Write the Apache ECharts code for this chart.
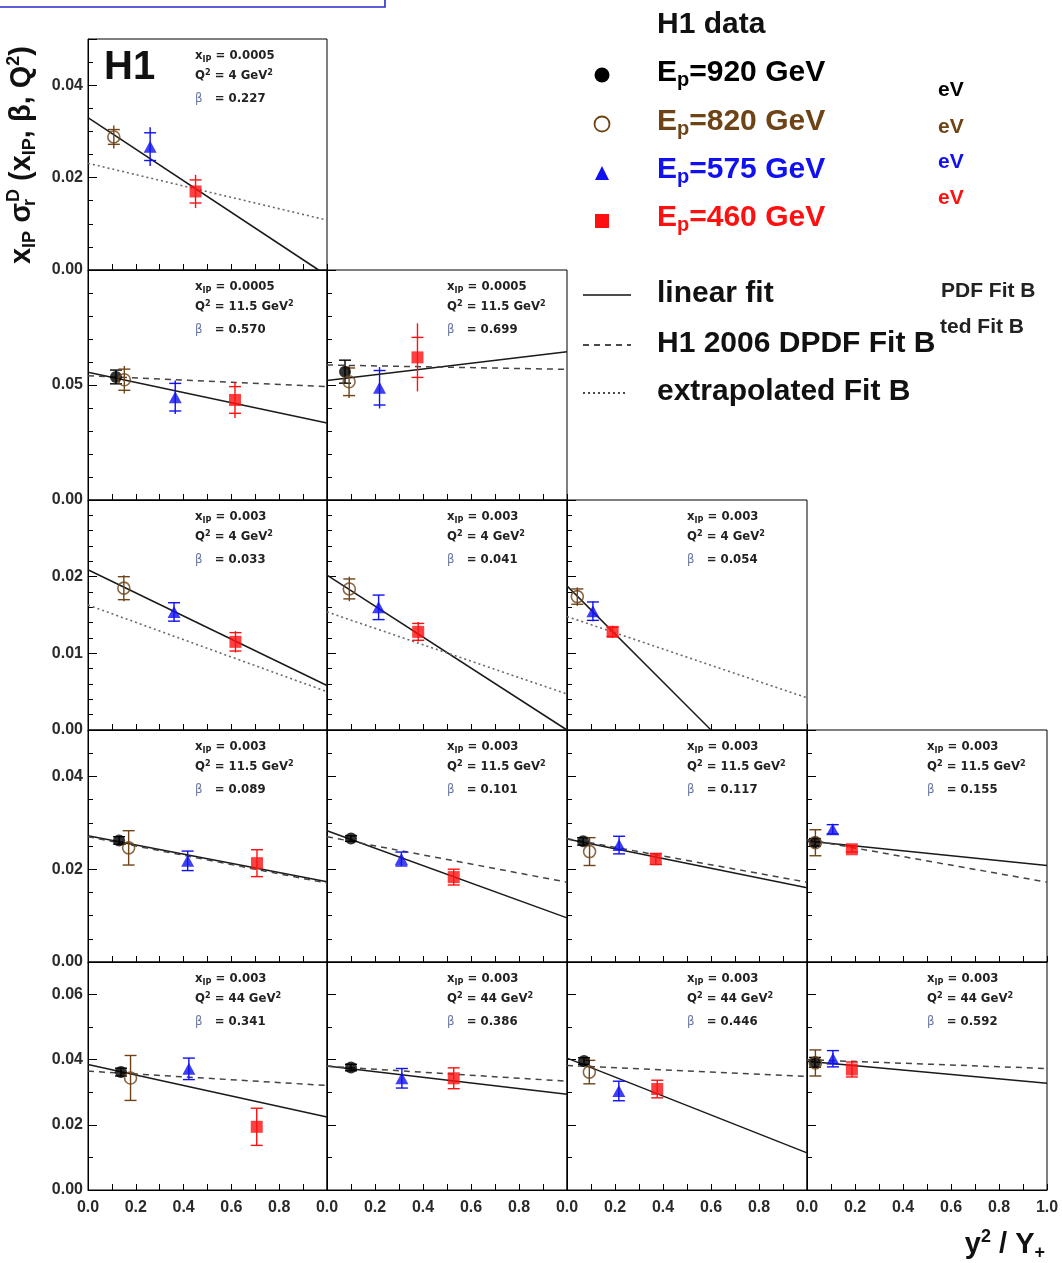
<!DOCTYPE html>
<html><head><meta charset="utf-8">
<script src="https://cdn.jsdelivr.net/npm/echarts@6/dist/echarts.min.js"></script>
<style>html,body{margin:0;padding:0;background:#fff}#c{width:1062px;height:1263px}</style>
</head><body><div id="c"></div><script>
// ---------------- data ----------------
const energies = ['920', '820', '575', '460'];
const seriesColors = ['#000000', '#6e4316', '#1010f0', '#ff1010'];

// panel position in the triangular matrix (row, column)
const panelRow = [0, 1, 1, 2, 2, 2, 3, 3, 3, 3, 4, 4, 4, 4];
const panelCol = [0, 0, 1, 0, 1, 2, 0, 1, 2, 3, 0, 1, 2, 3];

// bin labels
const xIP  = ['0.0005','0.0005','0.0005','0.003','0.003','0.003','0.003','0.003','0.003','0.003','0.003','0.003','0.003','0.003'];
const Q2   = ['4','11.5','11.5','4','4','4','11.5','11.5','11.5','11.5','44','44','44','44'];
const beta = ['0.227','0.570','0.699','0.033','0.041','0.054','0.089','0.101','0.117','0.155','0.341','0.386','0.446','0.592'];

// points: [y2/Y+, value, stat error, total error] per panel
const ep920 = [null,
  [0.117,0.0535,0.003,0.003], [0.075,0.0558,0.005,0.005],
  null, null, null,
  [0.130,0.0262,0.0008,0.0008], [0.100,0.0266,0.0006,0.0006], [0.067,0.0260,0.0008,0.0008], [0.033,0.0258,0.0008,0.0008],
  [0.138,0.0362,0.0012,0.0012], [0.100,0.0376,0.0010,0.0010], [0.071,0.0396,0.0010,0.0010], [0.033,0.0392,0.0015,0.0015]];
const ep820 = [[0.108,0.0288,0.0016,0.0025],
  [0.152,0.0523,0.0046,0.0060], [0.092,0.0514,0.0060,0.0070],
  [0.150,0.0185,0.0015,0.0017], [0.093,0.0184,0.0013,0.0016], [0.043,0.0174,0.0010,0.0012],
  [0.170,0.0246,0.0037,0.0037], null, [0.094,0.0238,0.0030,0.0030], [0.035,0.0257,0.0028,0.0028],
  [0.178,0.0344,0.0069,0.0069], null, [0.093,0.0362,0.0036,0.0036], [0.035,0.0390,0.0040,0.0040]];
const ep575 = [[0.260,0.0267,0.0030,0.0042],
  [0.365,0.0447,0.0060,0.0073], [0.219,0.0488,0.0075,0.0090],
  [0.360,0.0154,0.0012,0.0013], [0.215,0.0160,0.0016,0.0016], [0.108,0.0155,0.0012,0.0013],
  [0.417,0.0218,0.0021,0.0021], [0.310,0.0222,0.0015,0.0015], [0.217,0.0252,0.0019,0.0019], [0.107,0.0286,0.0010,0.0010],
  [0.422,0.0372,0.0033,0.0033], [0.312,0.0343,0.0030,0.0030], [0.216,0.0304,0.0030,0.0030], [0.108,0.0403,0.0025,0.0025]];
const ep460 = [[0.450,0.0170,0.0025,0.0036],
  [0.615,0.0435,0.0058,0.0078], [0.377,0.0620,0.0087,0.0148],
  [0.617,0.0115,0.0012,0.0014], [0.380,0.0128,0.0011,0.0013], [0.190,0.0128,0.0006,0.0008],
  [0.707,0.0213,0.0029,0.0029], [0.528,0.0183,0.0017,0.0017], [0.370,0.0222,0.0012,0.0012], [0.187,0.0243,0.0006,0.0006],
  [0.706,0.0194,0.0057,0.0057], [0.528,0.0343,0.0032,0.0032], [0.376,0.0310,0.0027,0.0027], [0.187,0.0370,0.0023,0.0023]];

// curves: [x0, y0, x1, y1]
const linearFit = [[0,0.0330,0.965,0],
  [0,0.0555,1,0.0335], [0,0.0520,1,0.0645],
  [0,0.0209,1,0.0058], [0,0.0202,1,0], [0,0.0188,0.6,0],
  [0,0.0272,1,0.0173], [0,0.0283,1,0.0095], [0,0.0265,1,0.0160], [0,0.0261,1,0.0208],
  [0,0.0385,1,0.0224], [0,0.0381,1,0.0294], [0,0.0405,1,0.0114], [0,0.0395,1,0.0328]];
const fitB = [null,
  [0,0.0540,1,0.0493], [0,0.0587,1,0.0568],
  null, null, null,
  [0,0.0270,1,0.0170], [0,0.0270,1,0.0172], [0,0.0266,1,0.0172], [0,0.0264,1,0.0172],
  [0,0.0365,1,0.0321], [0,0.0380,1,0.0334], [0,0.0382,1,0.0349], [0,0.0400,1,0.0373]];
const extrapFitB = [[0,0.0231,1,0.0108],
  null, null,
  [0,0.0163,1,0.0050], [0,0.0154,1,0.0047], [0,0.0148,1,0.0042],
  null, null, null, null, null, null, null, null];

// axis ranges per row
const yMax   = [0.05, 0.10, 0.03, 0.05, 0.07];
const yStep  = [0.02, 0.05, 0.01, 0.02, 0.02];
const yMinor = [4, 5, 5, 4, 2];
const xMax = 1.0, xStep = 0.2;

// ---------------- layout ----------------
const colX = [88, 327, 567, 807, 1047];
const rowY = [39, 270, 500, 730, 962, 1190];
const NARROW = "'Liberation Sans Narrow','DejaVu Sans Condensed','Arial Narrow',sans-serif";
const SANS = "'Liberation Sans',Arial,sans-serif";

const grids = [], xAxes = [], yAxes = [], series = [], graphic = [];
const pointSets = [ep920, ep820, ep575, ep460];
const symbols = ['circle', 'circle', 'triangle', 'rect'];
const symSizes = [12, 12, [13, 12], 12];

function errRender(params, api) {
  const x = api.value(0), y = api.value(1), s = api.value(2), t = api.value(3), k = api.value(4);
  const c = seriesColors[k];
  const a = api.coord([x, y + t]), b = api.coord([x, y - t]);
  const sa = api.coord([x, y + s]), sb = api.coord([x, y - s]);
  const w = 6;
  const st = { stroke: c, lineWidth: 1.4 };
  return { type: 'group', children: [
    { type: 'line', shape: { x1: a[0], y1: a[1], x2: b[0], y2: b[1] }, style: st },
    { type: 'line', shape: { x1: sa[0] - w, y1: sa[1], x2: sa[0] + w, y2: sa[1] }, style: st },
    { type: 'line', shape: { x1: sb[0] - w, y1: sb[1], x2: sb[0] + w, y2: sb[1] }, style: st }
  ]};
}

const annRich = {
  a: { fontFamily: NARROW, fontWeight: 'bold', fontSize: 13, lineHeight: 16, fill: '#222' },
  s: { fontFamily: NARROW, fontWeight: 'bold', fontSize: 9, lineHeight: 9, verticalAlign: 'bottom', fill: '#222' },
  u: { fontFamily: NARROW, fontWeight: 'bold', fontSize: 9, lineHeight: 9, verticalAlign: 'top', fill: '#222' },
  b: { fontFamily: NARROW, fontSize: 13, lineHeight: 16, fill: '#6a78a0' }
};

for (let i = 0; i < panelRow.length; i++) {
  const r = panelRow[i], c = panelCol[i];
  const last = r === 4;
  grids.push({ left: colX[c], top: rowY[r], width: colX[c + 1] - colX[c], height: rowY[r + 1] - rowY[r],
    show: true, borderColor: '#000', borderWidth: 1, backgroundColor: 'transparent', containLabel: false, outerBoundsMode: 'none' });
  xAxes.push({ gridIndex: i, type: 'value', min: 0, max: xMax, interval: xStep,
    axisLine: { show: true, onZero: false, lineStyle: { color: '#000', width: 1 } },
    axisTick: { show: true, inside: true, length: 6, lineStyle: { color: '#000' } },
    minorTick: { show: true, splitNumber: 2, length: 6, lineStyle: { color: '#000' } },
    splitLine: { show: false },
    axisLabel: { show: last, margin: 10, fontFamily: SANS, fontWeight: 'bold', fontSize: 16, color: '#2a2a2a',
      showMinLabel: true, showMaxLabel: c === 3,
      formatter: v => (c < 3 && v > 0.99) ? '' : v.toFixed(1) } });
  const ymx = yMax[r];
  yAxes.push({ gridIndex: i, type: 'value', min: 0, max: ymx, interval: yStep[r],
    axisLine: { show: true, onZero: false, lineStyle: { color: '#000', width: 1 } },
    axisTick: { show: true, inside: true, length: 9, lineStyle: { color: '#000' } },
    minorTick: { show: true, splitNumber: yMinor[r], length: 5, lineStyle: { color: '#000' } },
    splitLine: { show: false },
    axisLabel: { show: c === 0, margin: 5, fontFamily: SANS, fontWeight: 'bold', fontSize: 16, color: '#2a2a2a',
      showMinLabel: true, showMaxLabel: false,
      formatter: v => (v > ymx - 1e-9) ? '' : v.toFixed(2) } });

  // curves
  const curves = [
    [linearFit[i], { color: '#1a1a1a', width: 1.5, type: 'solid' }],
    [fitB[i], { color: '#444', width: 1.5, type: [6, 5] }],
    [extrapFitB[i], { color: '#6a6a6a', width: 1.6, type: [2, 3] }]
  ];
  curves.forEach(([cv, ls]) => {
    if (!cv) return;
    series.push({ type: 'line', xAxisIndex: i, yAxisIndex: i, data: [[cv[0], cv[1]], [cv[2], cv[3]]],
      symbol: 'none', lineStyle: ls, silent: true, animation: false, z: 2 });
  });

  // error bars
  const errData = [];
  pointSets.forEach((set, k) => { const p = set[i]; if (p) errData.push([p[0], p[1], p[2], p[3], k]); });
  series.push({ type: 'custom', xAxisIndex: i, yAxisIndex: i, data: errData, encode: { x: 0, y: 1 },
    renderItem: errRender, silent: true, animation: false, z: 3 });

  // markers
  pointSets.forEach((set, k) => {
    const p = set[i]; if (!p) return;
    series.push({ type: 'scatter', name: 'Ep=' + energies[k] + ' GeV', xAxisIndex: i, yAxisIndex: i,
      data: [[p[0], p[1]]], symbol: symbols[k], symbolSize: symSizes[k], silent: true, animation: false, z: 4 + k,
      itemStyle: k === 1 ? { color: 'rgba(255,255,255,0)', borderColor: seriesColors[1], borderWidth: 1.6 }
                         : { color: seriesColors[k], borderWidth: 0 } });
  });

  // bin annotation
  const tx = colX[c] + (c === 0 ? 107 : 120), ty = rowY[r];
  graphic.push({ type: 'text', x: tx, y: ty + 17, style: { text: '{a|x}{s|IP}{a| = ' + xIP[i] + '}', rich: annRich, verticalAlign: 'middle' } });
  graphic.push({ type: 'text', x: tx, y: ty + 37, style: { text: '{a|Q}{u|2}{a| = ' + Q2[i] + ' GeV}{u|2}', rich: annRich, verticalAlign: 'middle' } });
  graphic.push({ type: 'text', x: tx, y: ty + 60, style: { text: '{b|β}{a|   = ' + beta[i] + '}', rich: annRich, verticalAlign: 'middle' } });
}

// H1 logo
graphic.push({ type: 'text', x: 104, y: 68, style: { text: 'H1', font: 'bold 40px ' + SANS, fill: '#111', verticalAlign: 'middle' } });

// y axis title (rotated)
const bigRich = {
  m: { fontFamily: SANS, fontWeight: 'bold', fontSize: 29, lineHeight: 34, fill: '#111' },
  s: { fontFamily: SANS, fontWeight: 'bold', fontSize: 18, lineHeight: 18, verticalAlign: 'bottom', fill: '#111' },
  r: { fontFamily: SANS, fontWeight: 'bold', fontSize: 18, lineHeight: 18, verticalAlign: 'bottom', width: 1, fill: '#111' },
  u: { fontFamily: SANS, fontWeight: 'bold', fontSize: 18, lineHeight: 18, verticalAlign: 'top', fill: '#111' }
};
graphic.push({ type: 'text', x: 22, y: 155, rotation: Math.PI / 2,
  style: { text: '{m|x}{s|IP}{m| σ}{r|r}{u|D}{m| (x}{s|IP}{m|, β, Q}{u|2}{m|)}', rich: bigRich, align: 'center', verticalAlign: 'middle' } });
// x axis title
graphic.push({ type: 'text', x: 1045, y: 1245,
  style: { text: '{m|y}{u|2}{m| / Y}{s|+}', rich: bigRich, align: 'right', verticalAlign: 'middle' } });

// legend
const legRich = (col) => ({
  m: { fontFamily: SANS, fontWeight: 'bold', fontSize: 30, lineHeight: 34, fill: col },
  s: { fontFamily: SANS, fontWeight: 'bold', fontSize: 20, lineHeight: 20, verticalAlign: 'bottom', fill: col }
});
graphic.push({ type: 'text', x: 657, y: 25, style: { text: 'H1 data', font: 'bold 30px ' + SANS, fill: '#111', verticalAlign: 'middle' } });
const legY = [73, 122, 170, 218];
energies.forEach((e, k) => {
  graphic.push({ type: 'text', x: 657, y: legY[k], style: { text: '{m|E}{s|p}{m|=' + e + ' GeV}', rich: legRich(seriesColors[k]), verticalAlign: 'middle' } });
});
graphic.push({ type: 'circle', shape: { cx: 602, cy: 75, r: 7.5 }, style: { fill: '#000' } });
graphic.push({ type: 'circle', shape: { cx: 602, cy: 124, r: 7.5 }, style: { fill: 'none', stroke: seriesColors[1], lineWidth: 1.8 } });
graphic.push({ type: 'polygon', shape: { points: [[595, 180], [609, 180], [602, 166]] }, style: { fill: seriesColors[2] } });
graphic.push({ type: 'rect', shape: { x: 595, y: 214, width: 14, height: 14 }, style: { fill: seriesColors[3] } });

const lineLeg = [['linear fit', 295, null, 631], ['H1 2006 DPDF Fit B', 345, [6, 5], 631], ['extrapolated Fit B', 393, [2, 3], 628]];
lineLeg.forEach(([t, y, dash, x2]) => {
  graphic.push({ type: 'line', shape: { x1: 583, y1: y, x2: x2, y2: y }, style: { stroke: '#111', lineWidth: 1.5, lineDash: dash } });
  graphic.push({ type: 'text', x: 657, y: y - 1, style: { text: t, font: 'bold 30px ' + SANS, fill: '#111', verticalAlign: 'middle' } });
});

// partially hidden second legend fragments
const fragY = [90, 127, 162, 198];
fragY.forEach((y, k) => graphic.push({ type: 'text', x: 938, y: y, style: { text: 'eV', font: 'bold 21px ' + SANS, fill: seriesColors[k], verticalAlign: 'middle' } }));
graphic.push({ type: 'text', x: 941, y: 291, style: { text: 'PDF Fit B', font: 'bold 21px ' + SANS, fill: '#222', verticalAlign: 'middle' } });
graphic.push({ type: 'text', x: 940, y: 327, style: { text: 'ted Fit B', font: 'bold 21px ' + SANS, fill: '#222', verticalAlign: 'middle' } });

// blue frame fragment in the corner
graphic.push({ type: 'polyline', shape: { points: [[0, 7], [385, 7], [385, 0]] }, style: { stroke: '#2a2ac8', lineWidth: 1.6, fill: 'none' } });

const chart = echarts.init(document.getElementById('c'), null, { renderer: 'canvas' });
chart.setOption({ animation: false, backgroundColor: '#fff', grid: grids, xAxis: xAxes, yAxis: yAxes, series: series, graphic: graphic });
</script></body></html>
